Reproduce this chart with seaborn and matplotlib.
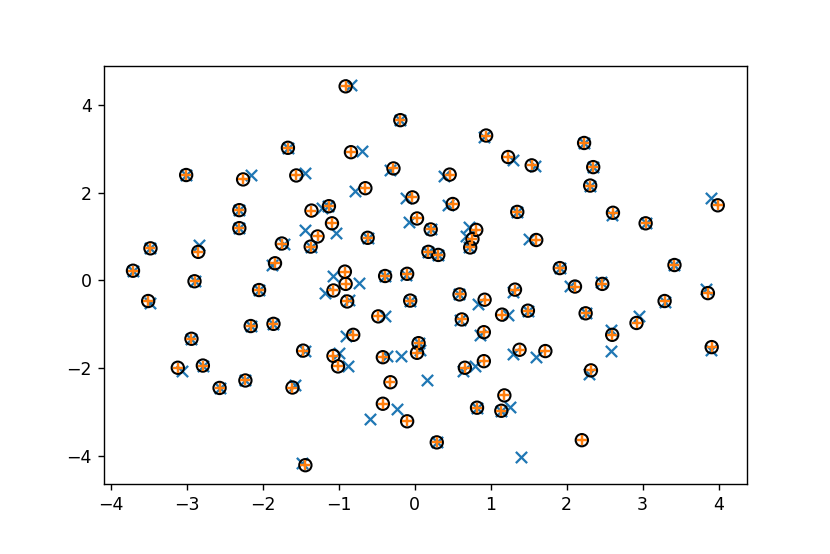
import numpy as np
import matplotlib
matplotlib.use("Agg")
import matplotlib.pyplot as plt
import seaborn as sns

# noisy measurements (blue crosses)
meas_x = [-0.84, -0.19, 0.91, 2.23, -1.67, -0.70, 1.30, 1.59, 2.35, -0.32,
          -3.01, -1.45, 0.39, -2.16, 2.31, -0.79, -0.12, 0.44, -1.14, -1.22,
          -2.31, 2.60, 1.35, 3.90, -0.08, 3.04, -1.04, -2.31, 0.21, 0.72,
          -1.44, -0.62, 0.67, 1.50, -1.72, 0.71, -1.37, -3.48, -2.84, 0.18,
          0.31, -1.88, 1.91, 3.42, -3.71, -1.07, -0.12, -0.39, -2.90, -0.74,
          2.45, 2.04, -2.05, 1.30, -1.18, 3.84, 0.58, 0.83, -0.06, -0.87,
          -3.48, 3.30, 1.49, 1.23, 2.25, -0.39, 0.60, 2.95, -1.86, -2.16,
          0.86, -0.91, 2.58, -2.94, 0.05, 3.90, -1.45, 1.30, 1.60, 0.07,
          -1.00, -0.36, 0.80, -2.79, -0.88, -3.07, 0.63, 2.29, -2.23, 0.16,
          -2.57, -1.58, 1.26, -0.23, 0.82, 1.14, -0.59, 1.40, 0.29, -1.49,
          -0.18, 2.58]
meas_y = [4.44, 3.65, 3.27, 3.13, 3.02, 2.94, 2.75, 2.60, 2.58, 2.51,
          2.40, 2.45, 2.38, 2.39, 2.16, 2.03, 1.87, 1.72, 1.69, 1.66,
          1.60, 1.48, 1.56, 1.87, 1.34, 1.30, 1.09, 1.19, 1.16, 1.21,
          1.15, 0.97, 1.00, 0.94, 0.82, 0.76, 0.77, 0.73, 0.81, 0.65,
          0.58, 0.35, 0.28, 0.35, 0.22, 0.10, 0.13, 0.10, -0.02, -0.05,
          -0.04, -0.12, -0.22, -0.26, -0.29, -0.19, -0.32, -0.53, -0.46, -0.44,
          -0.52, -0.49, -0.69, -0.78, -0.75, -0.80, -0.91, -0.80, -0.99, -1.04,
          -1.25, -1.26, -1.13, -1.33, -1.43, -1.58, -1.61, -1.67, -1.75, -1.58,
          -1.65, -1.73, -1.94, -1.94, -1.96, -2.07, -2.06, -2.13, -2.28, -2.28,
          -2.45, -2.39, -2.88, -2.94, -2.90, -2.97, -3.15, -4.02, -3.69, -4.15,
          -1.72, -1.60]

# true points (black circles with orange plus)
true_x = [-0.91, -0.19, 0.94, 2.23, -1.67, -0.84, 1.23, 1.54, 2.35, -0.28,
          -3.01, -1.56, 0.46, -2.26, 2.31, -0.65, -0.03, 0.50, -1.13, -1.36,
          -2.31, 2.61, 1.35, 3.99, 0.03, 3.04, -1.09, -2.31, 0.21, 0.81,
          -1.28, -0.62, 0.76, 1.60, -1.75, 0.73, -1.37, -3.48, -2.85, 0.18,
          0.31, -1.84, 1.91, 3.42, -3.71, -0.92, -0.10, -0.39, -2.90, -0.91,
          2.47, 2.11, -2.05, 1.32, -1.07, 3.86, 0.59, 0.92, -0.06, -0.89,
          -3.51, 3.29, 1.49, 1.15, 2.25, -0.48, 0.62, 2.92, -1.86, -2.16,
          0.91, -0.81, 2.60, -2.94, 0.05, 3.91, -1.47, 1.38, 1.72, 0.03,
          -1.07, -0.42, 0.91, -2.79, -1.01, -3.12, 0.66, 2.32, -2.23, -0.32,
          -2.57, -1.61, 1.18, -0.42, 0.82, 1.14, -0.10, 2.20, 0.29, -1.44]
true_y = [4.42, 3.65, 3.30, 3.13, 3.02, 2.92, 2.81, 2.62, 2.58, 2.55,
          2.40, 2.39, 2.41, 2.30, 2.16, 2.10, 1.89, 1.74, 1.69, 1.59,
          1.60, 1.54, 1.56, 1.71, 1.41, 1.30, 1.30, 1.19, 1.16, 1.15,
          1.00, 0.97, 0.94, 0.92, 0.84, 0.75, 0.77, 0.73, 0.65, 0.65,
          0.58, 0.39, 0.28, 0.35, 0.22, 0.20, 0.15, 0.10, -0.02, -0.08,
          -0.08, -0.14, -0.22, -0.21, -0.23, -0.29, -0.32, -0.44, -0.46, -0.48,
          -0.47, -0.47, -0.69, -0.78, -0.75, -0.82, -0.89, -0.97, -0.99, -1.04,
          -1.18, -1.24, -1.24, -1.33, -1.43, -1.52, -1.60, -1.58, -1.61, -1.65,
          -1.72, -1.75, -1.84, -1.94, -1.96, -1.99, -1.99, -2.05, -2.28, -2.32,
          -2.45, -2.44, -2.62, -2.81, -2.90, -2.97, -3.21, -3.64, -3.69, -4.21]

fig, ax = plt.subplots(figsize=(6.64, 4.432), dpi=125)
fig.subplots_adjust(left=0.125, right=0.9, top=0.88, bottom=0.126)

sns.scatterplot(x=meas_x, y=meas_y, marker="x", color="C0", s=42,
                linewidth=1.3, ax=ax, zorder=2)
sns.scatterplot(x=true_x, y=true_y, marker="o", facecolor="none",
                edgecolor="black", s=50, linewidth=1.2, ax=ax, zorder=3)
sns.scatterplot(x=true_x, y=true_y, marker="+", color="C1", s=36,
                linewidth=1.4, ax=ax, zorder=4)

fig.savefig("out.png", dpi=125)
